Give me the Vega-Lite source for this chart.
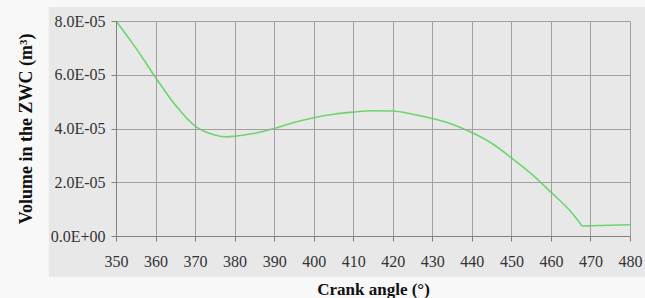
{
  "$schema": "https://vega.github.io/schema/vega-lite/v6.json",
  "width": 514,
  "height": 215,
  "autosize": {"type": "none"},
  "padding": {"left": 116, "top": 21, "right": 15, "bottom": 62},
  "background": "#f8f8f8",
  "config": {
    "view": {"stroke": null},
    "font": "Liberation Serif",
    "axis": {
      "grid": true,
      "gridColor": "#a0a0a0",
      "gridWidth": 1,
      "domainColor": "#808080",
      "tickColor": "#808080",
      "tickSize": 5,
      "labelFont": "Liberation Serif",
      "labelFontSize": 16,
      "labelColor": "#333333",
      "titleFont": "Liberation Serif",
      "titleFontWeight": "bold",
      "titleColor": "#111111",
      "labelFlush": false,
      "labelOverlap": false
    },
    "axisX": {
      "titleFontSize": 17,
      "labelPadding": 12,
      "titlePadding": 12
    },
    "axisY": {
      "titleFontSize": 18,
      "labelPadding": 6,
      "titlePadding": 15
    }
  },
  "layer": [
    {
      "data": {"values": [{"part": "panel"}]},
      "mark": {"type": "rect", "color": "#e8e8e8", "clip": false},
      "encoding": {
        "x": {
          "datum": 333,
          "type": "quantitative",
          "title": "Crank angle (°)",
          "axis": {"zindex": 1, "values": [350, 360, 370, 380, 390, 400, 410, 420, 430, 440, 450, 460, 470, 480]},
          "scale": {"domain": [350, 480], "nice": false, "zero": false}
        },
        "x2": {"datum": 485},
        "y": {
          "datum": 0.0000852,
          "type": "quantitative",
          "title": "Volume in the ZWC (m³)",
          "axis": {
            "zindex": 1,
            "values": [0, 0.00002, 0.00004, 0.00006, 0.00008],
            "labelExpr": "datum.value == 0 ? '0.0E+00' : format(datum.value * 100000, '.1f') + 'E-05'"
          },
          "scale": {"domain": [0, 0.00008], "nice": false}
        },
        "y2": {"datum": -0.0000153}
      }
    },
    {
      "data": {
        "values": [
          {"angle": 350, "volume": 0.0000800},
          {"angle": 355, "volume": 0.0000700},
          {"angle": 360, "volume": 0.0000590},
          {"angle": 365, "volume": 0.0000487},
          {"angle": 370, "volume": 0.0000409},
          {"angle": 375, "volume": 0.0000376},
          {"angle": 378, "volume": 0.0000369},
          {"angle": 380, "volume": 0.0000371},
          {"angle": 385, "volume": 0.0000382},
          {"angle": 390, "volume": 0.0000400},
          {"angle": 395, "volume": 0.0000422},
          {"angle": 400, "volume": 0.0000440},
          {"angle": 405, "volume": 0.0000453},
          {"angle": 410, "volume": 0.0000461},
          {"angle": 415, "volume": 0.0000466},
          {"angle": 420, "volume": 0.0000465},
          {"angle": 425, "volume": 0.0000453},
          {"angle": 430, "volume": 0.0000437},
          {"angle": 435, "volume": 0.0000416},
          {"angle": 440, "volume": 0.0000385},
          {"angle": 445, "volume": 0.0000345},
          {"angle": 450, "volume": 0.0000291},
          {"angle": 455, "volume": 0.0000232},
          {"angle": 460, "volume": 0.0000163},
          {"angle": 465, "volume": 0.0000091},
          {"angle": 467, "volume": 0.0000055},
          {"angle": 468, "volume": 0.0000037},
          {"angle": 470, "volume": 0.0000038},
          {"angle": 480, "volume": 0.0000042}
        ]
      },
      "mark": {"type": "line", "color": "#6cd66c", "strokeWidth": 1.6, "interpolate": "monotone"},
      "encoding": {
        "x": {
          "field": "angle",
          "type": "quantitative",
          "title": "Crank angle (°)",
          "axis": {"zindex": 1, "values": [350, 360, 370, 380, 390, 400, 410, 420, 430, 440, 450, 460, 470, 480]},
          "scale": {"domain": [350, 480], "nice": false, "zero": false}
        },
        "y": {
          "field": "volume",
          "type": "quantitative",
          "title": "Volume in the ZWC (m³)",
          "axis": {
            "zindex": 1,
            "values": [0, 0.00002, 0.00004, 0.00006, 0.00008],
            "labelExpr": "datum.value == 0 ? '0.0E+00' : format(datum.value * 100000, '.1f') + 'E-05'"
          },
          "scale": {"domain": [0, 0.00008], "nice": false}
        }
      }
    }
  ]
}
